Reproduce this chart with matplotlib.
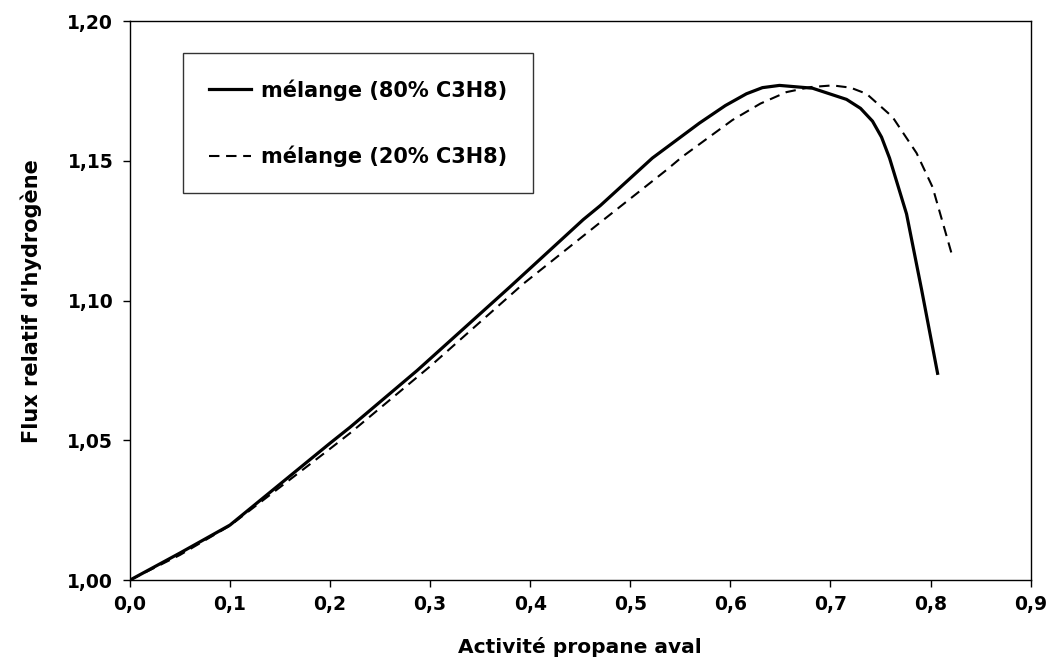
import matplotlib.pyplot as plt
import numpy as np

plt.rcParams['font.family'] = ['DejaVu Sans']
plt.rcParams['font.weight'] = 'bold'

# mélange 80% C3H8 (solid)
x80 = [0.0, 0.05, 0.1, 0.2, 0.22, 0.287, 0.38, 0.453, 0.47, 0.522, 0.569,
       0.595, 0.616, 0.632, 0.649, 0.682, 0.716, 0.73, 0.742, 0.751, 0.759,
       0.776, 0.791, 0.807]
y80 = [1.0, 1.0097, 1.0197, 1.049, 1.0547, 1.075, 1.105, 1.129, 1.134, 1.151,
       1.1635, 1.1698, 1.174, 1.1762, 1.177, 1.176, 1.172, 1.1688, 1.1642,
       1.1585, 1.151, 1.131, 1.104, 1.074]

# mélange 20% C3H8 (dashed)
x20 = [0.0, 0.05, 0.1, 0.2, 0.22, 0.3, 0.393, 0.47, 0.536, 0.552, 0.602,
       0.63, 0.656, 0.68, 0.702, 0.72, 0.736, 0.762, 0.786, 0.802, 0.822]
y20 = [1.0, 1.009, 1.0195, 1.047, 1.0526, 1.0765, 1.106, 1.128, 1.1467, 1.1515,
       1.1646, 1.1705, 1.1746, 1.1764, 1.177, 1.1762, 1.174, 1.1657, 1.1528,
       1.1406, 1.1156]

xticks = [0.0, 0.1, 0.2, 0.3, 0.4, 0.5, 0.6, 0.7, 0.8, 0.9]
xlabels = ['0,0', '0,1', '0,2', '0,3', '0,4', '0,5', '0,6', '0,7', '0,8', '0,9']
yticks = [1.00, 1.05, 1.10, 1.15, 1.20]
ylabels = ['1,00', '1,05', '1,10', '1,15', '1,20']

fig = plt.figure(figsize=(10.56, 6.6), dpi=100)
ax = fig.add_axes([0.123, 0.121, 0.853, 0.847])

ax.plot(x80, y80, color='black', lw=2.3, label='mélange (80% C3H8)')
ax.plot(x20, y20, color='black', lw=1.5, ls=(0, (5, 3.2)), label='mélange (20% C3H8)')

ax.set_xlim(0, 0.9)
ax.set_ylim(1.0, 1.2)
ax.set_xticks(xticks)
ax.set_xticklabels(xlabels)
ax.set_yticks(yticks)
ax.set_yticklabels(ylabels)
ax.tick_params(labelsize=13.5, length=5, width=1, direction='out', pad=7)
ax.tick_params(axis='x', pad=6)
for s in ax.spines.values():
    s.set_linewidth(1)

ax.set_xlabel('Activité propane aval', fontsize=14.5, fontweight='bold', labelpad=16)
ax.set_ylabel("Flux relatif d'hydrogène", fontsize=15, fontweight='bold', labelpad=18)

leg = ax.legend(loc='upper left', bbox_to_anchor=(0.0588, 0.943), fontsize=15,
                frameon=True, fancybox=False, edgecolor='black', handlelength=2.0,
                labelspacing=2.15, borderpad=1.25, handletextpad=0.5,
                borderaxespad=0)
leg.get_frame().set_linewidth(1)

fig.savefig('out.png', dpi=100)
